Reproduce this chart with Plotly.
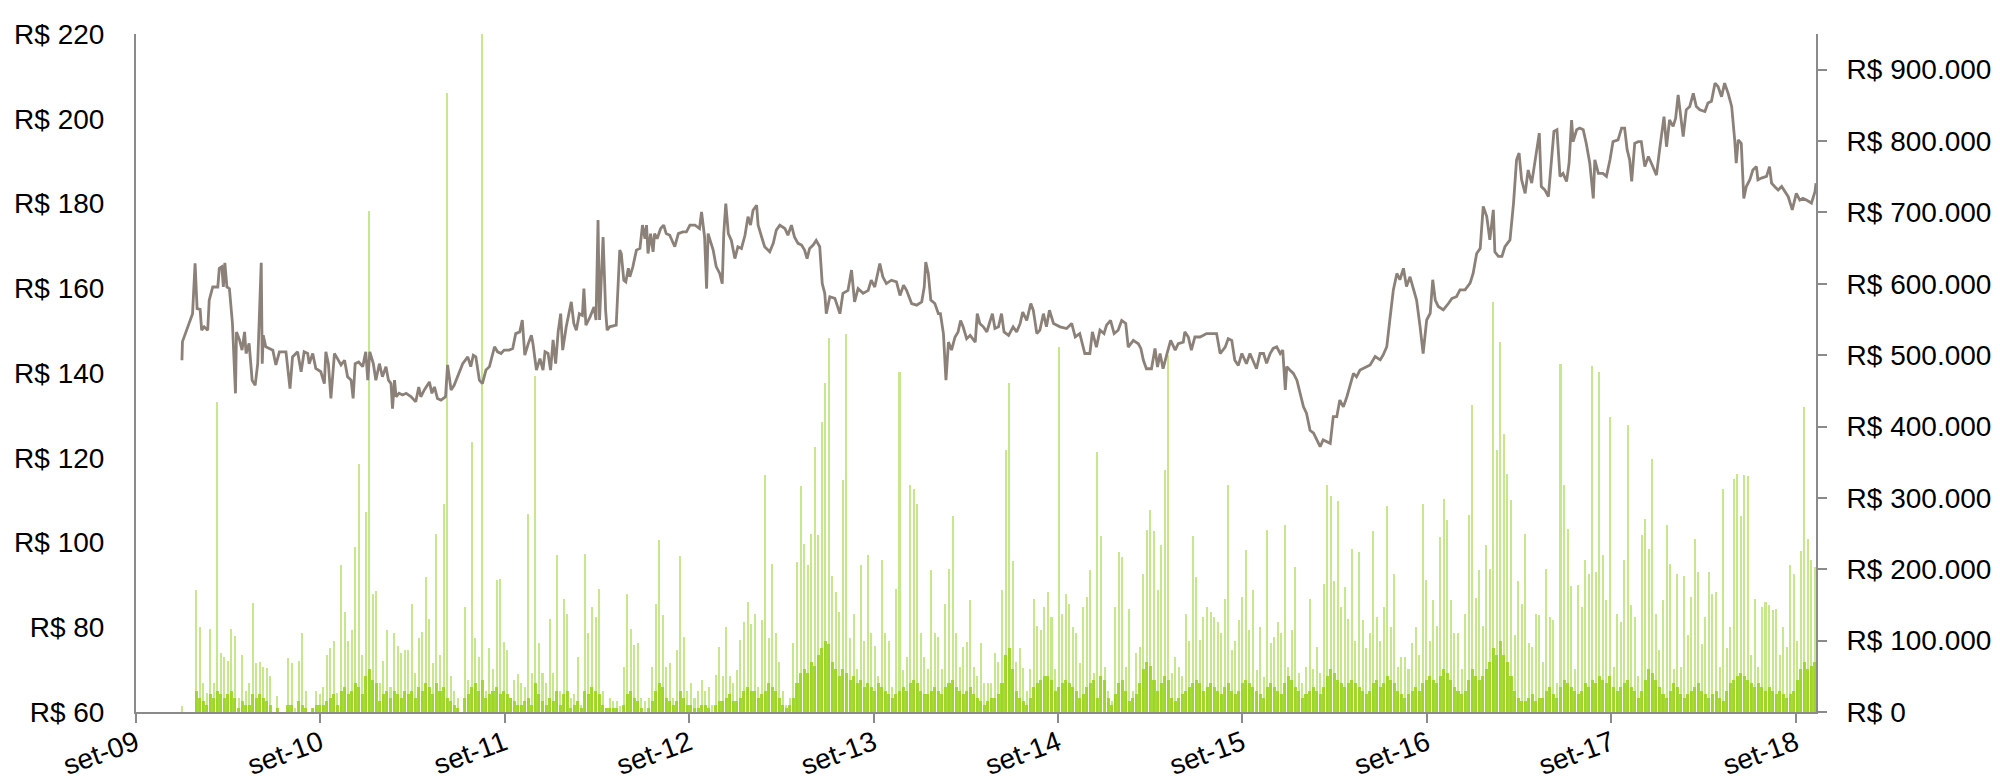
import pandas as pd
import plotly.graph_objects as go

# ---------------- DATA ----------------
# Price line: day offsets from 2009-09-01 and price in R$
price_day = [
    91, 92, 112, 117, 121, 127, 130, 135, 142, 145, 152, 162, 165, 170, 173, 176, 180, 185, 191, 197,
    199, 205, 210, 215, 218, 224, 230, 236, 241, 248, 250, 252, 257, 264, 271, 277, 284, 297, 305, 310,
    320, 327, 333, 340, 343, 350, 356, 366, 373, 376, 381, 386, 393, 399, 406, 413, 419, 426, 430, 434,
    441, 449, 455, 459, 463, 470, 475, 482, 488, 495, 500, 505, 508, 512, 515, 521, 528, 535, 545, 554,
    560, 564, 571, 581, 586, 591, 597, 604, 613, 617, 624, 630, 637, 647, 657, 663, 668, 673, 680, 686,
    693, 700, 710, 716, 723, 729, 739, 746, 752,
    760, 765, 770, 777, 783, 786, 793, 800, 806, 810, 816, 821, 826, 831, 836, 841, 845, 852, 858, 862,
    867, 872, 878, 884, 887, 891, 899, 907, 911, 915, 918, 925, 930, 933, 938, 951, 958, 961, 966, 970,
    975, 978, 984, 991, 998, 1003, 1008, 1011, 1014, 1019, 1024, 1027, 1032, 1039, 1045, 1050, 1057, 1062, 1067, 1074,
    1083, 1090, 1097, 1107, 1116, 1120, 1126, 1130, 1133, 1136, 1143, 1149, 1156, 1161, 1164, 1168, 1173, 1179, 1186, 1192,
    1199, 1206, 1212, 1217, 1222, 1229, 1232, 1239, 1245, 1255, 1262, 1268, 1275, 1285, 1291, 1298, 1304, 1311, 1318, 1324,
    1329, 1334, 1341, 1347, 1354, 1359, 1364, 1367, 1374, 1384, 1394, 1400, 1410, 1417, 1423, 1430, 1440, 1450, 1456, 1463,
    1473, 1479, 1486, 1496, 1506,
    1513, 1520, 1526, 1536, 1546, 1556, 1561, 1564, 1569, 1574, 1582, 1589, 1593, 1599, 1604, 1609, 1615, 1622, 1628, 1633,
    1638, 1645, 1652, 1662, 1666, 1671, 1678, 1685, 1691, 1696, 1701, 1708, 1714, 1719, 1728, 1737, 1744, 1751, 1756, 1764,
    1772, 1777, 1784, 1790, 1797, 1803, 1809, 1817, 1830, 1843, 1853, 1860, 1869, 1879, 1889, 1894, 1902, 1909, 1917, 1922,
    1930, 1937, 1945, 1952, 1960, 1965, 1975, 1985, 1990, 1995, 2001, 2011, 2018, 2023, 2028, 2034, 2041, 2049, 2058, 2064,
    2074, 2077, 2084, 2090, 2097, 2107, 2114, 2120, 2130, 2140, 2147, 2157, 2163, 2170, 2176, 2183, 2190, 2199, 2206, 2213,
    2219, 2226,
    2233, 2239, 2246, 2252, 2259, 2266, 2271, 2276, 2279, 2285, 2292, 2299, 2305, 2312, 2318, 2325, 2332, 2338, 2345, 2351,
    2358, 2365, 2371, 2378, 2384, 2391, 2398, 2404, 2411, 2417, 2424, 2437, 2444, 2454, 2464, 2470, 2477, 2483, 2490, 2497,
    2503, 2510, 2516, 2523, 2530, 2536, 2543, 2549, 2556, 2563, 2568, 2573, 2579, 2589, 2599, 2606, 2615, 2622, 2632, 2642,
    2648, 2655, 2662, 2668, 2675, 2681, 2688, 2691, 2698, 2705, 2711, 2721, 2728, 2734, 2739, 2744, 2751, 2757, 2764, 2771,
    2774, 2779,
    2783, 2790, 2797, 2803, 2808, 2814, 2820, 2826, 2833, 2838, 2843, 2846, 2853, 2859, 2866, 2872, 2879, 2886, 2889, 2896,
    2905, 2912, 2919, 2925, 2935, 2942, 2948, 2953, 2958, 2962, 2968, 2975, 2981, 2988, 2995, 3001, 3011, 3018, 3026, 3031,
    3037, 3044, 3049, 3054, 3059, 3064, 3070, 3077, 3084, 3090, 3097, 3107, 3113, 3120, 3127, 3133, 3140, 3146, 3153, 3160,
    3166, 3169, 3173, 3179, 3184, 3189, 3196, 3202, 3209, 3212, 3219, 3229, 3235, 3239, 3245, 3252, 3259, 3265, 3272, 3280,
    3288, 3295, 3301, 3308, 3318, 3325, 3327,
]
price_val = [
    143.0, 147.4, 154.0, 165.9, 155.2, 155.0, 150.1, 150.9, 150.1, 157.2, 160.3, 160.3, 164.7, 165.1, 160.3, 166.0, 160.3, 159.9, 151.7, 135.2,
    149.7, 147.8, 145.4, 149.7, 144.6, 147.0, 138.3, 137.1, 142.2, 166.0, 142.2, 148.9, 146.2, 145.8, 145.4, 141.9, 145.0, 145.0, 136.3, 143.8,
    145.0, 140.3, 145.0, 144.6, 142.2, 144.6, 141.1, 140.3, 137.5, 145.0, 142.2, 134.0, 144.6, 143.4, 141.9, 143.0, 139.1, 138.3, 134.0, 142.2,
    142.6, 141.5, 145.0, 138.3, 145.0, 142.2, 138.3, 142.2, 139.1, 141.5, 138.3, 137.5, 131.6, 138.3, 134.4, 135.2, 134.8, 135.2, 134.4, 133.2,
    136.7, 134.4, 136.0, 137.9, 135.2, 136.7, 134.0, 133.6, 134.4, 141.9, 136.0, 137.1, 139.1, 142.2, 143.8, 141.5, 144.2, 143.8, 138.3, 137.5,
    140.7, 141.5, 146.2, 145.0, 144.6, 145.4, 145.4, 145.8, 149.3,
    149.7, 152.5, 144.2, 147.0, 148.9, 147.0, 140.7, 143.4, 140.7, 145.0, 144.6, 140.7, 147.8, 142.2, 149.7, 154.0, 145.4, 150.9, 154.0, 156.8,
    151.7, 150.1, 154.0, 153.6, 159.9, 151.3, 153.2, 155.6, 152.5, 176.1, 152.5, 172.1, 154.8, 150.1, 150.9, 151.3, 169.0, 168.2, 161.9, 161.5,
    164.7, 162.7, 165.1, 169.0, 169.4, 174.9, 171.7, 174.9, 168.2, 172.9, 168.6, 172.9, 171.7, 174.1, 174.9, 172.9, 172.5, 171.3, 169.8, 172.9,
    173.3, 173.3, 174.9, 174.9, 174.1, 178.0, 172.1, 159.9, 172.9, 171.7, 169.0, 165.1, 163.5, 161.1, 172.9, 180.0, 172.9, 171.3, 167.0, 169.8,
    169.4, 172.5, 176.9, 174.9, 178.4, 179.6, 174.9, 172.1, 169.8, 168.6, 170.6, 173.7, 174.9, 174.1, 172.5, 174.9, 172.1, 170.6, 170.2, 169.0,
    167.0, 169.4, 170.2, 171.3, 169.8, 161.1, 158.8, 154.0, 158.0, 157.6, 154.0, 158.8, 159.5, 164.3, 156.8, 159.9, 158.8, 159.5, 161.9, 160.3,
    165.8, 162.7, 161.1, 161.9, 161.5,
    158.3, 160.7, 159.5, 156.4, 156.0, 156.8, 160.3, 166.2, 163.5, 157.2, 156.4, 154.0, 154.0, 149.3, 138.3, 147.3, 145.4, 148.5, 149.7, 152.4,
    150.9, 148.1, 148.9, 147.3, 154.0, 151.7, 150.9, 149.7, 152.1, 154.0, 150.5, 150.9, 154.0, 149.7, 148.9, 150.9, 149.7, 151.7, 154.4, 152.4,
    156.4, 154.8, 149.3, 150.1, 154.0, 150.9, 154.8, 151.7, 150.9, 150.5, 151.7, 148.5, 149.3, 144.6, 144.6, 149.7, 146.1, 150.1, 149.3, 151.3,
    152.4, 149.3, 150.1, 152.4, 151.7, 146.1, 147.7, 146.9, 145.8, 143.0, 141.0, 141.0, 145.8, 141.4, 144.6, 141.0, 144.2, 147.7, 145.4, 146.9,
    147.3, 149.7, 148.5, 145.4, 148.5, 148.5, 148.9, 149.3, 149.3, 149.3, 144.6, 146.1, 148.1, 147.7, 143.0, 141.8, 144.6, 142.2, 144.6, 142.6,
    141.0, 144.6,
    144.6, 142.3, 144.6, 145.8, 146.2, 144.6, 145.4, 136.0, 141.5, 140.7, 139.9, 138.3, 135.2, 132.0, 130.5, 126.5, 125.8, 124.2, 122.6, 124.2,
    123.8, 123.4, 129.7, 129.7, 133.6, 132.0, 134.4, 136.8, 139.9, 139.1, 140.7, 141.5, 141.9, 143.9, 143.1, 144.3, 146.2, 152.5, 159.6, 163.5,
    162.0, 164.7, 160.4, 162.7, 159.6, 157.2, 150.9, 144.6, 152.5, 154.1, 162.0, 157.2, 155.7, 154.9, 156.4, 157.6, 158.0, 159.6, 159.6, 161.2,
    163.5, 168.2, 169.4, 179.3, 176.9, 171.4, 178.5, 168.6, 167.5, 167.5, 169.8, 171.4, 180.1, 190.3, 191.9, 185.6, 182.4, 187.9, 184.8, 190.3,
    193.4, 196.6,
    184.0, 183.2, 181.6, 190.3, 197.0, 197.4, 186.4, 187.1, 185.2, 189.5, 199.7, 194.6, 197.4, 197.8, 197.4, 194.2, 189.5, 181.2, 190.3, 187.1,
    187.1, 186.4, 190.3, 194.6, 195.0, 197.8, 197.8, 192.7, 190.3, 185.2, 194.2, 194.6, 194.6, 188.7, 191.1, 189.5, 186.7, 193.4, 200.5, 193.4,
    199.7, 198.2, 200.1, 205.6, 200.5, 195.8, 202.1, 202.9, 206.0, 202.9, 202.1, 201.7, 203.7, 204.1, 208.4, 207.6, 205.2, 208.4, 206.0, 202.9,
    195.0, 189.5, 195.0, 194.2, 181.2, 184.0, 185.6, 187.9, 188.7, 185.6, 186.0, 186.4, 188.7, 184.8, 184.0, 183.2, 184.0, 182.8, 181.6, 178.5,
    182.4, 180.8, 181.2, 180.8, 180.1, 182.8, 184.8,
]

# Weekly volume (thousand R$), weeks starting 2009-12-01
vol_week_start = "2009-12-01"
# highest daily volume within each week
vol_peak = [
    9, 0, 0, 0, 171, 119, 40, 26, 116, 40,
    435, 82, 77, 72, 117, 107, 20, 80, 30, 40,
    153, 68, 70, 63, 61, 50, 0, 22, 0, 0,
    75, 68, 5, 72, 110, 30, 0, 5, 30, 25,
    35, 80, 89, 99, 26, 206, 140, 99, 115, 231,
    348, 80, 280, 702, 165, 170, 40, 72, 115, 35,
    110, 92, 82, 87, 87, 152, 55, 103, 112, 189,
    131, 68, 250, 80, 292, 867, 50, 30, 20, 0,
    147, 45, 378, 103, 77, 950, 30, 89, 60, 185,
    187, 98, 87, 20, 45, 53, 40, 35, 278, 55,
    471, 96, 55, 40, 131, 55, 220, 30, 159, 138,
    20, 25, 77, 10, 222, 110, 147, 133, 173, 30,
    5, 20, 15, 15, 8, 63, 166, 117, 94, 96,
    20, 15, 20, 63, 152, 241, 136, 63, 68, 20,
    87, 218, 105, 30, 40, 20, 30, 45, 30, 35,
    10, 52, 91, 50, 119, 50, 40, 59, 101, 126,
    154, 124, 138, 35, 129, 332, 104, 208, 110, 70,
    30, 10, 20, 96, 210, 316, 236, 206, 250, 372,
    248, 407, 461, 524, 190, 168, 140, 325, 530, 103,
    138, 60, 206, 100, 220, 110, 92, 50, 213, 110,
    100, 35, 173, 476, 59, 77, 318, 313, 292, 110,
    77, 60, 199, 110, 105, 60, 152, 201, 274, 110,
    63, 91, 98, 157, 63, 50, 96, 40, 40, 40,
    82, 70, 171, 367, 461, 211, 70, 90, 62, 30,
    60, 159, 120, 115, 147, 168, 133, 60, 511, 138,
    166, 152, 119, 110, 68, 147, 161, 199, 54, 365,
    246, 63, 30, 15, 147, 224, 217, 63, 145, 30,
    82, 91, 194, 255, 283, 253, 171, 234, 339, 500,
    54, 77, 63, 50, 138, 100, 246, 189, 101, 133,
    147, 140, 133, 126, 110, 159, 318, 87, 99, 129,
    161, 227, 115, 171, 59, 119, 49, 255, 96, 105,
    126, 110, 262, 63, 115, 203, 54, 40, 63, 159,
    60, 91, 54, 180, 318, 302, 183, 295, 147, 175,
    131, 229, 100, 224, 129, 90, 110, 253, 133, 100,
    147, 288, 119, 194, 63, 77, 77, 60, 96, 119,
    80, 292, 185, 100, 157, 120, 245, 299, 269, 157,
    110, 110, 60, 138, 276, 430, 160, 199, 120, 234,
    200, 574, 367, 518, 390, 334, 297, 108, 183, 152,
    250, 96, 91, 138, 136, 70, 201, 133, 129, 40,
    488, 318, 257, 176, 60, 178, 147, 213, 194, 485,
    196, 476, 220, 157, 414, 63, 138, 126, 213, 402,
    150, 133, 50, 248, 271, 229, 355, 138, 87, 157,
    262, 208, 60, 194, 63, 190, 108, 161, 243, 196,
    95, 133, 196, 166, 168, 63, 313, 89, 119, 327,
    333, 274, 332, 330, 80, 159, 63, 147, 154, 150,
    143, 145, 80, 119, 91, 206, 194, 100, 225, 428,
    243, 213, 203,
]
# typical (dense) daily volume level within each week
vol_base = [
    0, 0, 0, 0, 30, 20, 15, 10, 25, 20,
    30, 25, 20, 25, 30, 20, 5, 15, 10, 10,
    25, 20, 25, 20, 15, 10, 0, 5, 0, 0,
    10, 10, 0, 15, 10, 5, 0, 5, 10, 10,
    10, 15, 20, 25, 10, 30, 35, 25, 30, 40,
    35, 25, 50, 60, 45, 40, 15, 25, 30, 20,
    30, 25, 20, 30, 25, 30, 20, 35, 30, 40,
    35, 25, 40, 30, 35, 20, 15, 10, 5, 0,
    20, 25, 35, 40, 30, 45, 20, 25, 30, 35,
    25, 30, 25, 20, 15, 10, 10, 15, 20, 10,
    40, 25, 15, 10, 20, 15, 30, 10, 25, 30,
    5, 10, 15, 5, 30, 25, 35, 30, 25, 10,
    5, 5, 5, 5, 0, 10, 25, 30, 20, 15,
    5, 0, 5, 15, 30, 40, 35, 20, 15, 10,
    15, 30, 20, 10, 10, 5, 5, 10, 10, 5,
    0, 10, 15, 15, 20, 25, 15, 15, 20, 30,
    35, 30, 30, 20, 25, 30, 40, 35, 30, 20,
    10, 5, 10, 20, 40, 55, 60, 55, 70, 65,
    80, 90, 100, 95, 70, 60, 50, 60, 55, 45,
    50, 40, 45, 35, 40, 35, 30, 40, 35, 30,
    25, 20, 25, 30, 35, 30, 40, 45, 40, 30,
    25, 25, 30, 35, 30, 25, 35, 40, 45, 35,
    30, 25, 30, 35, 25, 20, 15, 10, 15, 20,
    20, 25, 40, 80, 90, 60, 30, 20, 15, 10,
    20, 35, 40, 45, 50, 50, 45, 30, 35, 40,
    45, 40, 35, 30, 20, 25, 35, 40, 45, 20,
    50, 45, 20, 10, 25, 40, 45, 30, 15, 20,
    25, 40, 60, 70, 65, 45, 30, 40, 50, 45,
    20, 15, 20, 25, 30, 35, 40, 45, 40, 30,
    35, 40, 35, 30, 25, 35, 40, 30, 25, 30,
    40, 45, 40, 35, 30, 25, 20, 35, 40, 35,
    30, 25, 40, 50, 45, 35, 30, 20, 25, 30,
    35, 30, 25, 35, 50, 60, 55, 45, 40, 35,
    40, 45, 40, 35, 30, 25, 30, 40, 45, 35,
    40, 50, 45, 40, 30, 25, 20, 25, 30, 35,
    30, 40, 45, 50, 45, 40, 50, 60, 55, 45,
    35, 30, 25, 30, 45, 60, 50, 45, 50, 60,
    70, 90, 80, 100, 80, 70, 50, 30, 20, 15,
    15, 20, 25, 15, 20, 20, 30, 35, 25, 20,
    35, 45, 40, 35, 30, 25, 30, 40, 35, 45,
    40, 50, 45, 40, 50, 35, 30, 35, 40, 45,
    35, 30, 20, 30, 45, 60, 55, 45, 35, 25,
    20, 30, 40, 35, 25, 20, 25, 30, 35, 40,
    30, 25, 20, 25, 30, 20, 15, 30, 40, 45,
    50, 55, 50, 45, 40, 35, 40, 35, 30, 35,
    30, 25, 30, 25, 20, 25, 30, 45, 60, 70,
    60, 65, 70,
]

x_tick_dates = ["2009-09-01", "2010-09-01", "2011-09-01", "2012-09-01", "2013-09-01",
                "2014-09-01", "2015-09-01", "2016-09-01", "2017-09-01", "2018-09-01"]
x_tick_labels = ["set-09", "set-10", "set-11", "set-12", "set-13",
                 "set-14", "set-15", "set-16", "set-17", "set-18"]
price_ticks = [60, 80, 100, 120, 140, 160, 180, 200, 220]
price_tick_labels = ["R$ 60", "R$ 80", "R$ 100", "R$ 120", "R$ 140", "R$ 160",
                     "R$ 180", "R$ 200", "R$ 220"]
vol_ticks = [0, 100000, 200000, 300000, 400000, 500000, 600000, 700000, 800000, 900000]
vol_tick_labels = ["R$ 0", "R$ 100.000", "R$ 200.000", "R$ 300.000", "R$ 400.000",
                   "R$ 500.000", "R$ 600.000", "R$ 700.000", "R$ 800.000", "R$ 900.000"]

# ---------------- FIGURE ----------------
origin = pd.Timestamp("2009-09-01")
price_dates = [origin + pd.Timedelta(days=d) for d in price_day]
week_dates = pd.date_range(vol_week_start, periods=len(vol_peak), freq="7D")
DAY_MS = 86400000

FONT = "Liberation Sans, Arial, sans-serif"
AX = "#8a8a8a"

fig = go.Figure()
fig.add_trace(go.Bar(
    x=week_dates, y=[v * 1000 for v in vol_peak], yaxis="y",
    width=4 * DAY_MS, marker=dict(color="#c6e78b", line=dict(width=0)),
    showlegend=False, hoverinfo="skip"))
fig.add_trace(go.Bar(
    x=week_dates[:len(vol_base)], y=[v * 1000 for v in vol_base], yaxis="y",
    width=6 * DAY_MS, marker=dict(color="#96d416", line=dict(width=0)), opacity=0.85,
    showlegend=False, hoverinfo="skip"))
fig.add_trace(go.Scatter(
    x=price_dates, y=price_val, yaxis="y2", mode="lines",
    line=dict(color="#8b8178", width=2.8), showlegend=False, hoverinfo="skip"))

# page body has an 8px margin: size the figure so the plot area lands on the reference pixels
fig.update_layout(
    width=1984, height=773,
    margin=dict(l=128, r=176, t=26, b=69, pad=0, autoexpand=False),
    paper_bgcolor="white", plot_bgcolor="white",
    barmode="overlay", bargap=0,
    font=dict(family=FONT, size=28, color="#000000"),
    xaxis=dict(type="date", range=["2009-09-01", "2018-10-11"], automargin=False,
               tickmode="array", tickvals=x_tick_dates, ticktext=x_tick_labels,
               tickangle=-20, ticks="outside", ticklen=9, tickwidth=2, tickcolor=AX,
               showline=True, linecolor=AX, linewidth=2, showgrid=False, zeroline=False,
               ticklabelstandoff=-7,
               tickfont=dict(size=28, family=FONT, color="#000000")),
    yaxis=dict(range=[0, 950000], side="right", automargin=False,
               tickmode="array", tickvals=vol_ticks, ticktext=vol_tick_labels,
               ticks="outside", ticklen=9, tickwidth=2, tickcolor=AX,
               showline=True, linecolor=AX, linewidth=2, showgrid=False, zeroline=False,
               ticklabelstandoff=14,
               tickfont=dict(size=28, family=FONT, color="#000000")),
    yaxis2=dict(range=[60, 220], side="left", overlaying="y", automargin=False,
                tickmode="array", tickvals=price_ticks, ticktext=price_tick_labels,
                ticks="", showline=True, linecolor=AX, linewidth=2,
                showgrid=False, zeroline=False, ticklabelstandoff=24,
                tickfont=dict(size=28, family=FONT, color="#000000")),
)

fig.write_html("out.html")
